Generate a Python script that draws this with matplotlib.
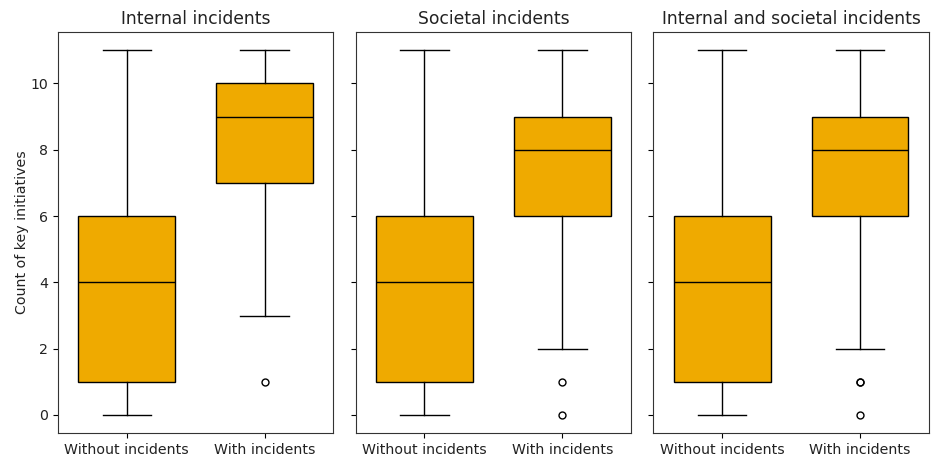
import matplotlib.pyplot as plt

titles = ['Internal incidents', 'Societal incidents', 'Internal and societal incidents']
groups = ['Without incidents', 'With incidents']

# per panel: (whislo, q1, median, q3, whishi) for each group
without_stats = [(0, 1, 4, 6, 11), (0, 1, 4, 6, 11), (0, 1, 4, 6, 11)]
with_stats = [(3, 7, 9, 10, 11), (2, 6, 8, 9, 11), (2, 6, 8, 9, 11)]
with_fliers = [[1], [1, 0], [1, 1, 0]]
without_fliers = [[], [], []]

fig, axes = plt.subplots(1, 3, figsize=(9.31, 4.57), dpi=100, sharey=True)
fig.subplots_adjust(left=0.062, right=0.998, top=0.93, bottom=0.052, wspace=0.08)

for i, ax in enumerate(axes):
    stats = []
    for label, s, fl in [(groups[0], without_stats[i], without_fliers[i]),
                         (groups[1], with_stats[i], with_fliers[i])]:
        lo, q1, med, q3, hi = s
        stats.append(dict(label=label, whislo=lo, q1=q1, med=med, q3=q3, whishi=hi, fliers=fl))
    ax.bxp(stats, positions=[0, 1], widths=0.7, patch_artist=True,
           boxprops=dict(facecolor='#efaa00', edgecolor='black', linewidth=1),
           medianprops=dict(color='black', linewidth=1),
           whiskerprops=dict(color='black', linewidth=1),
           capprops=dict(color='black', linewidth=1),
           capwidths=0.35,
           flierprops=dict(marker='o', markersize=5, markerfacecolor='none',
                           markeredgecolor='black', markeredgewidth=1))
    ax.set_xlim(-0.5, 1.5)
    ax.set_ylim(-0.55, 11.55)
    ax.set_title(titles[i], fontsize=12.3, color='#222222')
    ax.tick_params(labelsize=10.2, labelcolor='#222222')
    for sp in ax.spines.values():
        sp.set_color('#333333')

axes[0].set_ylabel('Count of key initiatives', fontsize=10.2, color='#222222', labelpad=1)
axes[0].set_yticks([0, 2, 4, 6, 8, 10])

fig.savefig('out.png', dpi=100)
